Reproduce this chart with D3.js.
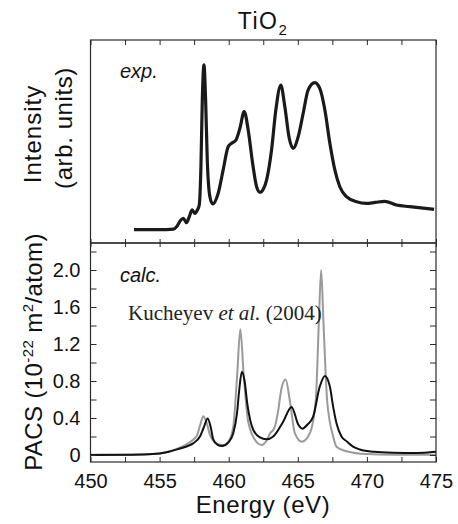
<!DOCTYPE html>
<html><head><meta charset="utf-8">
<script src="https://cdn.jsdelivr.net/npm/d3@7"></script>
<style>body{margin:0;background:#fff}svg{display:block}</style>
</head><body>
<script>
// ---- data ----
const xTicks = [450, 455, 460, 465, 470, 475];
const yTicks = [0, 0.4, 0.8, 1.2, 1.6, 2.0];
const yTickLabels = ["0", "0.4", "0.8", "1.2", "1.6", "2.0"];

const expData = [[453.15,0.066],[454.5,0.066],[455.5,0.066],[456.0,0.068],[456.23,0.08],[456.5,0.11],[456.71,0.122],[456.95,0.1],[457.15,0.13],[457.36,0.163],[457.56,0.146],[457.75,0.165],[457.87,0.187],[457.99,0.376],[458.09,0.704],[458.21,0.877],[458.33,0.704],[458.45,0.409],[458.64,0.228],[458.84,0.192],[459.24,0.245],[459.6,0.36],[459.96,0.474],[460.2,0.491],[460.52,0.507],[460.81,0.565],[461.12,0.647],[461.41,0.557],[461.73,0.393],[462.02,0.277],[462.26,0.25],[462.5,0.265],[462.74,0.31],[463.1,0.458],[463.41,0.655],[463.77,0.778],[464.06,0.672],[464.38,0.516],[464.66,0.466],[465.03,0.524],[465.39,0.639],[465.75,0.754],[466.23,0.79],[466.59,0.762],[466.96,0.655],[467.32,0.491],[467.68,0.36],[468.04,0.277],[468.52,0.228],[469.25,0.203],[469.97,0.195],[470.6,0.2],[471.29,0.205],[472.14,0.187],[473.1,0.179],[474.86,0.166]];

const calcGrey = [[450,0.002],[453,0.004],[454.5,0.01],[455.5,0.03],[456.47,0.08],[457.0,0.12],[457.43,0.165],[457.7,0.21],[457.95,0.33],[458.16,0.42],[458.4,0.35],[458.64,0.22],[459.12,0.126],[459.6,0.105],[460.0,0.15],[460.33,0.306],[460.62,0.883],[460.84,1.36],[461.08,0.88],[461.41,0.36],[462.02,0.14],[462.4,0.108],[462.75,0.16],[463.0,0.235],[463.3,0.29],[463.55,0.45],[463.82,0.72],[464.12,0.815],[464.42,0.595],[464.79,0.235],[465.3,0.144],[465.87,0.235],[466.3,0.595],[466.52,1.42],[466.69,2.0],[466.86,1.42],[467.12,0.595],[467.56,0.2],[467.8,0.09],[468.52,0.04],[469.97,0.01],[472,0.004],[475,0.003]];

const calcBlack = [[450,0.0],[453,0.003],[454.5,0.01],[455.5,0.03],[456.47,0.07],[457.0,0.095],[457.43,0.126],[457.92,0.2],[458.2,0.3],[458.48,0.395],[458.7,0.3],[458.88,0.17],[459.2,0.11],[459.5,0.097],[460.0,0.14],[460.33,0.235],[460.6,0.45],[460.76,0.7],[460.95,0.9],[461.15,0.8],[461.35,0.55],[461.78,0.27],[462.26,0.19],[462.74,0.17],[463.22,0.2],[463.94,0.36],[464.55,0.52],[465.03,0.33],[465.34,0.285],[465.7,0.33],[466.11,0.415],[466.59,0.74],[466.96,0.855],[467.32,0.74],[467.56,0.52],[467.8,0.343],[468.16,0.2],[468.52,0.15],[469.0,0.09],[469.49,0.06],[470.5,0.035],[471.9,0.025],[473.6,0.022],[475,0.035]];

// ---- layout ----
const W = 458, H = 524;
const L = 90.5, R = 436;
const topT = 40, mid = 243, botB = 462;

const svg = d3.select("body").append("svg").attr("width", W).attr("height", H);

const x = d3.scaleLinear().domain([450, 475]).range([L, R]);
const yTop = d3.scaleLinear().domain([0, 1]).range([mid, topT]);
const yBot = d3.scaleLinear().domain([0, 2]).range([455, 270]);

const defs = svg.append("defs");
defs.append("clipPath").attr("id","cTop").append("rect").attr("x",L).attr("y",topT).attr("width",R-L).attr("height",mid-topT);
defs.append("clipPath").attr("id","cBot").append("rect").attr("x",L).attr("y",mid).attr("width",R-L).attr("height",botB-mid);

const axCol = "#2a2a2a";
const sans = "'Liberation Sans', Arial, Helvetica, sans-serif";

// curves
const lineTop = d3.line().x(d=>x(d[0])).y(d=>yTop(d[1])).curve(d3.curveMonotoneX);
const lineBot = d3.line().x(d=>x(d[0])).y(d=>yBot(d[1])).curve(d3.curveMonotoneX);

svg.append("path").datum(expData).attr("d", lineTop).attr("clip-path","url(#cTop)")
  .attr("fill","none").attr("stroke","#1a1a1a").attr("stroke-width",3.2).attr("stroke-linejoin","round");
svg.append("path").datum(calcGrey).attr("d", lineBot).attr("clip-path","url(#cBot)")
  .attr("fill","none").attr("stroke","#9a9a9a").attr("stroke-width",2).attr("stroke-linejoin","round");
svg.append("path").datum(calcBlack).attr("d", lineBot).attr("clip-path","url(#cBot)")
  .attr("fill","none").attr("stroke","#111").attr("stroke-width",2).attr("stroke-linejoin","round");

// frames
svg.append("rect").attr("x",L).attr("y",topT).attr("width",R-L).attr("height",mid-topT)
  .attr("fill","none").attr("stroke",axCol).attr("stroke-width",1.2);
svg.append("rect").attr("x",L).attr("y",mid).attr("width",R-L).attr("height",botB-mid)
  .attr("fill","none").attr("stroke",axCol).attr("stroke-width",1.2);

// x ticks (every 2.5)
const minorX = d3.range(450, 475.01, 2.5);
function xAxisAt(yPos, size) {
  const ax = d3.axisBottom(x).tickValues(minorX).tickSize(size).tickFormat("");
  const g = svg.append("g").attr("transform",`translate(0,${yPos})`).call(ax);
  g.select(".domain").remove();
  g.selectAll(".tick line").attr("stroke",axCol).attr("stroke-width",1);
  return g;
}
xAxisAt(topT, 5);          // top border, inward (down)
xAxisAt(mid - 4, 8);       // shared border, both directions
xAxisAt(botB, -5);         // bottom border, inward (up)

// x tick labels
const xl = svg.append("g").attr("transform",`translate(0,${botB})`)
  .call(d3.axisBottom(x).tickValues(xTicks).tickSize(0).tickPadding(12).tickFormat(d3.format("d")));
xl.select(".domain").remove();
xl.selectAll("text").attr("font-family",sans).attr("font-size",20).attr("fill","#111");

// y ticks (every 0.2), left and right, inward
const minorY = d3.range(0, 2.21, 0.2);
const yl = svg.append("g").attr("transform",`translate(${L},0)`)
  .call(d3.axisLeft(yBot).tickValues(minorY).tickSize(-6).tickFormat(""));
yl.select(".domain").remove();
yl.selectAll(".tick line").attr("stroke",axCol);
const yr = svg.append("g").attr("transform",`translate(${R},0)`)
  .call(d3.axisRight(yBot).tickValues(minorY).tickSize(-6).tickFormat(""));
yr.select(".domain").remove();
yr.selectAll(".tick line").attr("stroke",axCol);

const ylab = svg.append("g").attr("transform",`translate(${L},0)`)
  .call(d3.axisLeft(yBot).tickValues(yTicks).tickSize(0).tickPadding(10).tickFormat((d,i)=>yTickLabels[i]));
ylab.select(".domain").remove();
ylab.selectAll("text").attr("font-family",sans).attr("font-size",20).attr("fill","#111");

// title
const t = svg.append("text").attr("x",263).attr("y",29).attr("text-anchor","middle")
  .attr("font-family",sans).attr("font-size",23).attr("fill","#111").attr("letter-spacing",1.5);
t.append("tspan").text("TiO");
t.append("tspan").text("2").attr("font-size",15).attr("dy",6);

// axis titles
svg.append("text").attr("x",263).attr("y",513).attr("text-anchor","middle")
  .attr("font-family",sans).attr("font-size",24).attr("fill","#111").attr("letter-spacing",0.6)
  .text("Energy (eV)");

svg.append("text").attr("transform","translate(41,134) rotate(-90)").attr("text-anchor","middle")
  .attr("font-family",sans).attr("font-size",24).attr("fill","#111").attr("letter-spacing",1)
  .text("Intensity");
svg.append("text").attr("transform","translate(72,128) rotate(-90)").attr("text-anchor","middle")
  .attr("font-family",sans).attr("font-size",24).attr("fill","#111").attr("letter-spacing",0.6)
  .text("(arb. units)");

const pl = svg.append("text").attr("transform","translate(42,352) rotate(-90)").attr("text-anchor","middle")
  .attr("font-family",sans).attr("font-size",24).attr("fill","#111").attr("letter-spacing",0.4);
pl.append("tspan").text("PACS (10");
pl.append("tspan").text("-22").attr("font-size",15).attr("dy",-9);
pl.append("tspan").text(" m").attr("dy",9);
pl.append("tspan").text("2").attr("font-size",15).attr("dy",-9);
pl.append("tspan").text("/atom)").attr("dy",9);

// panel annotations
svg.append("text").attr("x",120).attr("y",78).attr("font-family",sans).attr("font-style","italic")
  .attr("font-size",20).attr("fill","#111").text("exp.");
svg.append("text").attr("x",120).attr("y",282).attr("font-family",sans).attr("font-style","italic")
  .attr("font-size",20).attr("fill","#111").text("calc.");
const k = svg.append("text").attr("x",128).attr("y",320).attr("font-family","'Liberation Serif', 'Times New Roman', serif")
  .attr("font-size",21).attr("fill","#222");
k.append("tspan").text("Kucheyev ");
k.append("tspan").text("et al.").attr("font-style","italic");
k.append("tspan").text(" (2004)");
</script>
</body></html>
